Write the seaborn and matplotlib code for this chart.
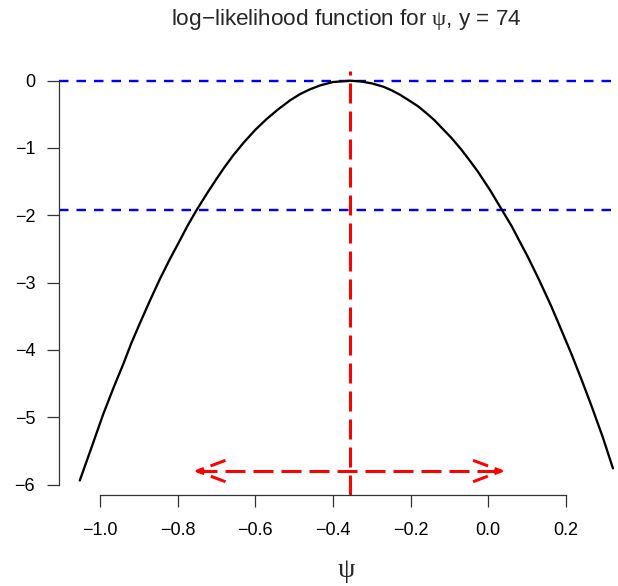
import matplotlib
matplotlib.use("Agg")
import matplotlib.pyplot as plt
import seaborn as sns
import pandas as pd

# === DATA (smoothed by eye) ===
psi = [-1.052, -1.020, -0.992, -0.965, -0.940, -0.920, -0.897, -0.870, -0.846,
       -0.820, -0.794, -0.775, -0.751, -0.725, -0.700, -0.680, -0.657, -0.630,
       -0.600, -0.571, -0.540, -0.510, -0.485, -0.460, -0.433, -0.400, -0.356,
       -0.330, -0.300, -0.270, -0.250, -0.227, -0.205, -0.181, -0.160, -0.140,
       -0.120, -0.095, -0.070, -0.050, -0.027, 0.005, 0.034, 0.060, 0.080,
       0.102, 0.130, 0.162, 0.190, 0.214, 0.240, 0.265, 0.295, 0.321]
loglik = [-5.94, -5.42, -4.96, -4.56, -4.21, -3.91, -3.60, -3.25, -2.95,
          -2.65, -2.37, -2.16, -1.92, -1.68, -1.46, -1.29, -1.11, -0.92,
          -0.73, -0.57, -0.42, -0.29, -0.20, -0.13, -0.07, -0.02, 0.00,
          -0.01, -0.04, -0.09, -0.14, -0.21, -0.29, -0.38, -0.48, -0.58,
          -0.70, -0.85, -1.02, -1.17, -1.35, -1.63, -1.91, -2.16, -2.38,
          -2.62, -2.95, -3.35, -3.73, -4.06, -4.44, -4.82, -5.30, -5.76]

psi_hat = -0.356
ref_levels = [0.0, -1.92]
ci_lower, ci_upper = -0.750, 0.034
arrow_y = -5.8

x_ticks = [-1.0, -0.8, -0.6, -0.4, -0.2, 0.0, 0.2]
x_tick_labels = ["\u22121.0", "\u22120.8", "\u22120.6", "\u22120.4", "\u22120.2", "0.0", "0.2"]
y_ticks = [0, -1, -2, -3, -4, -5, -6]
y_tick_labels = ["0", "\u22121", "\u22122", "\u22123", "\u22124", "\u22125", "\u22126"]

title = "log\u2212likelihood function for $\\psi$, y = 74"

# === STYLE ===
sns.set_style("white")
plt.rcParams["font.family"] = ["Liberation Sans", "DejaVu Sans"]
plt.rcParams["mathtext.fontset"] = "custom"
plt.rcParams["mathtext.rm"] = "Liberation Serif"
plt.rcParams["mathtext.it"] = "Liberation Serif"

W, H = 618, 586
fig = plt.figure(figsize=(W / 100, H / 100), dpi=100)
# plot region in pixels (R-style, right edge runs past the image)
left_px, right_px, top_px, bottom_px = 59.3, 634.0, 71.0, 495.0
ax = fig.add_axes([left_px / W, 1 - bottom_px / H,
                   (right_px - left_px) / W, (bottom_px - top_px) / H])

df = pd.DataFrame({"psi": psi, "loglik": loglik})
sns.lineplot(data=df, x="psi", y="loglik", color="black", linewidth=1.65,
             ax=ax, sort=False)

px2pt = 0.72
for lev in ref_levels:
    ax.axhline(lev, color="blue", linewidth=2.4 * px2pt,
               dashes=(9.5 / 2.4, 8 / 2.4), zorder=1)

red_lw = 3.0
ax.axvline(psi_hat, color="red", linewidth=red_lw * px2pt,
           dashes=(20 / red_lw, 8 / red_lw), zorder=3)

# CI arrow (dashed, heads at both ends)
ax.plot([ci_lower, ci_upper], [arrow_y, arrow_y], color="red",
        linewidth=red_lw * px2pt, dashes=(20 / red_lw, 8 / red_lw))
head_dx = 28.4 / 388.3
head_dy = 10.7 / 67.3
for tip, sgn in [(ci_lower, 1), (ci_upper, -1)]:
    ax.plot([tip + sgn * head_dx, tip, tip + sgn * head_dx],
            [arrow_y + head_dy, arrow_y, arrow_y - head_dy],
            color="red", linewidth=red_lw * px2pt,
            dashes=(16 / red_lw, 7 / red_lw, 15 / red_lw, 7 / red_lw))

ax.set_xlim(-1.1048, 0.3752)
ax.set_ylim(-6.156, 0.144)

ax.set_xticks(x_ticks)
ax.set_xticklabels(x_tick_labels)
ax.set_yticks(y_ticks)
ax.set_yticklabels(y_tick_labels)
ax.tick_params(axis="x", bottom=True, direction="out", length=8.6, width=0.9,
               pad=10.5, labelsize=13, colors="#333333", labelcolor="black")
ax.tick_params(axis="y", left=True, direction="out", length=8.4, width=0.9,
               pad=9.0, labelsize=13, colors="#333333", labelcolor="black")

for side in ["top", "right"]:
    ax.spines[side].set_visible(False)
ax.spines["left"].set_bounds(-6, 0)
ax.spines["bottom"].set_bounds(-1.0, 0.2)
for side in ["left", "bottom"]:
    ax.spines[side].set_color("#333333")
    ax.spines[side].set_linewidth(0.9)

ax.set_xlabel("")
ax.set_ylabel("")
ax.grid(False)

cx = (left_px + right_px) / 2 / W
fig.text(cx, 1 - 25 / H, title, ha="center", va="baseline", fontsize=16.2)
fig.text(cx, 1 - 571.5 / H, "$\\psi$", ha="center", va="center", fontsize=20)

fig.savefig("out.png", dpi=100)
